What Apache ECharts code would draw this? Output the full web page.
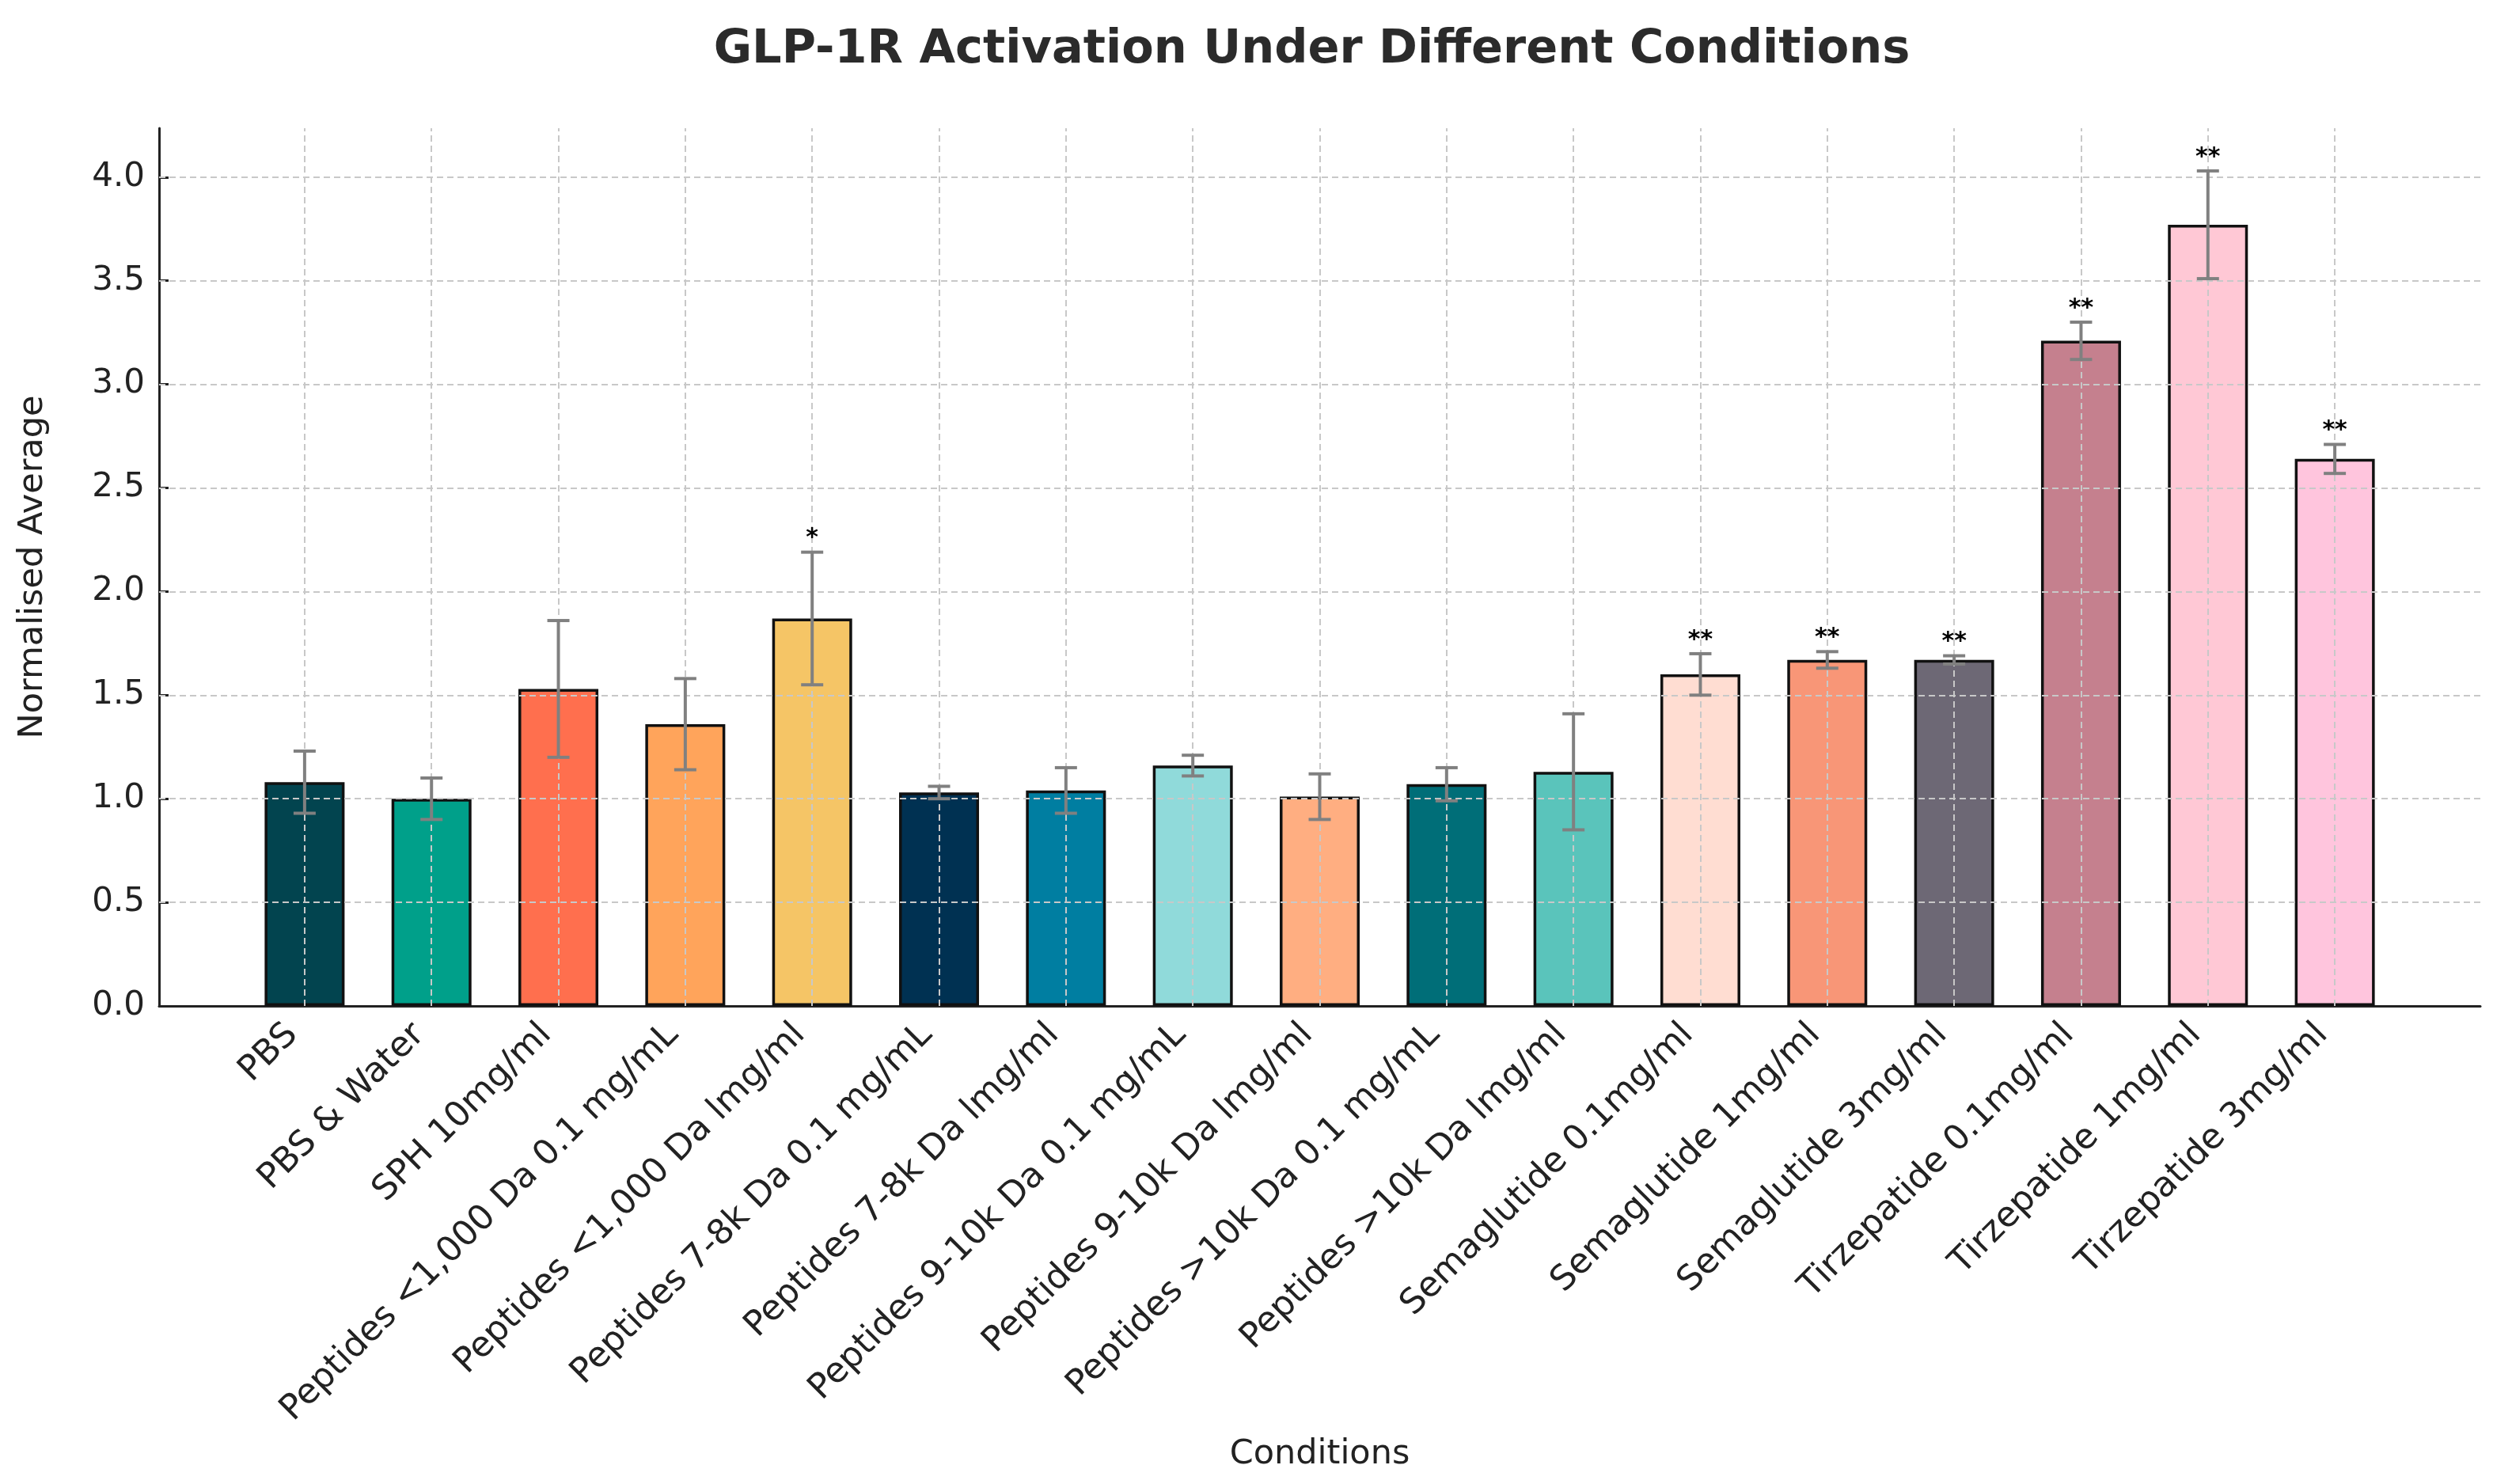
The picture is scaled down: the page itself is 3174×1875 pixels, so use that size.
<!DOCTYPE html>
<html>
<head>
<meta charset="utf-8">
<script src="https://cdn.jsdelivr.net/npm/echarts@6/dist/echarts.min.js"></script>
<style>
html,body{margin:0;padding:0;background:#fff;}
#chart{width:3174px;height:1875px;}
</style>
</head>
<body>
<div id="chart"></div>
<script>
const categories = [
  'PBS', 'PBS & Water', 'SPH 10mg/ml',
  'Peptides <1,000 Da 0.1 mg/mL', 'Peptides <1,000 Da lmg/ml',
  'Peptides 7-8k Da 0.1 mg/mL', 'Peptides 7-8k Da lmg/ml',
  'Peptides 9-10k Da 0.1 mg/mL', 'Peptides 9-10k Da lmg/ml',
  'Peptides >10k Da 0.1 mg/mL', 'Peptides >10k Da lmg/ml',
  'Semaglutide 0.1mg/ml', 'Semaglutide 1mg/ml', 'Semaglutide 3mg/ml',
  'Tirzepatide 0.1mg/ml', 'Tirzepatide 1mg/ml', 'Tirzepatide 3mg/ml'
];
const means = [1.08, 1.00, 1.53, 1.36, 1.87, 1.03, 1.04, 1.16, 1.01, 1.07, 1.13, 1.60, 1.67, 1.67, 3.21, 3.77, 2.64];
const errors = [0.15, 0.10, 0.33, 0.22, 0.32, 0.03, 0.11, 0.05, 0.11, 0.08, 0.28, 0.10, 0.04, 0.02, 0.09, 0.26, 0.07];
const significance = ['', '', '', '', '*', '', '', '', '', '', '', '**', '**', '**', '**', '**', '**'];
const barColors = ['#02444f', '#00a08a', '#ff6f4e', '#ffa45b', '#f5c566', '#003152', '#007ea1', '#90dada', '#ffae81', '#006e78', '#5ac4bb', '#ffddd2', '#f89677', '#6d6875', '#c5808e', '#ffc8d5', '#ffc5dd'];
const yTicks = [0, 0.5, 1.0, 1.5, 2.0, 2.5, 3.0, 3.5, 4.0];

const FONT = '"DejaVu Sans", "Liberation Sans", sans-serif';
const W = 3174, H = 1875;
const gridLeft = 201, gridRight = 40, gridTop = 162, gridBottom = 604;
const xMin = -1.147, xMax = 17.147, yMax = 4.236;
const barUnits = 0.63;
const barPx = (W - gridLeft - gridRight) / (xMax - xMin) * barUnits;
const idx = categories.map((c, i) => i);

const chart = echarts.init(document.getElementById('chart'), null, {renderer: 'canvas'});
const gridLineStyle = {type: [8, 5], color: '#c8c8c8', width: 2};

const option = {
  backgroundColor: '#ffffff',
  animation: false,
  textStyle: {fontFamily: FONT},
  graphic: [{
    type: 'text', x: (gridLeft + W - gridRight) / 2 - 10, y: 64,
    style: {text: 'GLP-1R Activation Under Different Conditions', fontFamily: FONT,
      fontSize: 59, fontWeight: 'bold', fill: '#2b2b2b', align: 'center', verticalAlign: 'middle'}
  }],
  grid: {left: gridLeft, right: gridRight, top: gridTop, bottom: gridBottom, containLabel: false},
  xAxis: {
    type: 'value', min: xMin, max: xMax,
    name: 'Conditions', nameLocation: 'middle', nameGap: 545,
    nameTextStyle: {fontSize: 43, color: '#222', fontFamily: FONT},
    axisLine: {show: true, onZero: false, lineStyle: {color: '#222', width: 3}},
    axisTick: {show: true, inside: true, length: 12, customValues: idx, lineStyle: {color: '#222', width: 3}},
    axisLabel: {
      customValues: idx, rotate: 45, fontSize: 44, color: '#222', fontFamily: FONT, margin: 14,
      padding: [0, 22, 0, 0],
      formatter: v => categories[Math.round(v)]
    },
    splitLine: {show: false}
  },
  yAxis: {
    type: 'value', min: 0, max: yMax,
    name: 'Normalised Average', nameLocation: 'middle', nameGap: 138,
    nameTextStyle: {fontSize: 43, color: '#222', fontFamily: FONT},
    axisLine: {show: true, onZero: false, lineStyle: {color: '#222', width: 3}},
    axisTick: {show: true, inside: true, length: 12, customValues: yTicks, lineStyle: {color: '#222', width: 3}},
    axisLabel: {customValues: yTicks, fontSize: 42, color: '#222', fontFamily: FONT, margin: 18,
      formatter: v => v.toFixed(1)},
    splitLine: {show: false}
  },
  series: [
    {
      type: 'bar',
      barWidth: barPx,
      data: means.map((m, i) => ({value: [i, m], itemStyle: {color: barColors[i]}})),
      itemStyle: {borderColor: '#111', borderWidth: 3.5},
      z: 2,
      markLine: {
        silent: true, symbol: ['none', 'none'], label: {show: false}, animation: false,
        lineStyle: gridLineStyle,
        emphasis: {disabled: true},
        data: [
          ...yTicks.filter(v => v > 0).map(v => ({yAxis: v})),
          ...idx.map(i => ({xAxis: i}))
        ]
      }
    },
    {
      type: 'custom',
      z: 10,
      data: means.map((m, i) => [i, m, errors[i], m + errors[i], m - errors[i]]),
      encode: {x: 0, y: [3, 4]},
      renderItem: function (params, api) {
        const x = api.value(0), m = api.value(1), e = api.value(2);
        const top = api.coord([x, m + e]);
        const bot = api.coord([x, m - e]);
        const cap = 14;
        const st = {stroke: '#808080', lineWidth: 4};
        const children = [
          {type: 'line', shape: {x1: top[0], y1: top[1], x2: bot[0], y2: bot[1]}, style: st},
          {type: 'line', shape: {x1: top[0] - cap, y1: top[1], x2: top[0] + cap, y2: top[1]}, style: st},
          {type: 'line', shape: {x1: bot[0] - cap, y1: bot[1], x2: bot[0] + cap, y2: bot[1]}, style: st}
        ];
        const s = significance[params.dataIndex];
        if (s) {
          children.push({type: 'text', x: top[0], y: top[1] - 2,
            style: {text: s, fontFamily: FONT, fontSize: 30, fontWeight: 'bold', fill: '#000',
              align: 'center', verticalAlign: 'bottom'}});
        }
        return {type: 'group', children: children};
      }
    }
  ]
};
chart.setOption(option);
</script>
</body>
</html>
